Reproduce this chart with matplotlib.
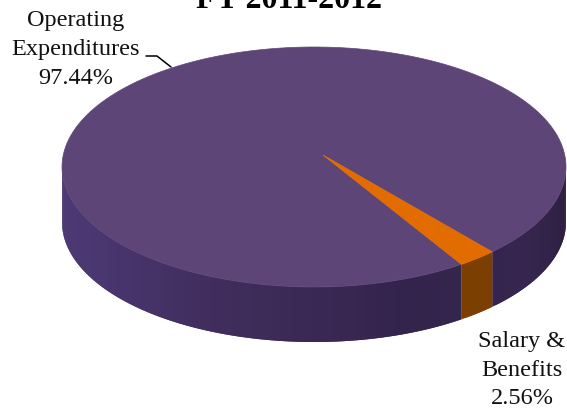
import numpy as np
import matplotlib
matplotlib.use('Agg')
import matplotlib.pyplot as plt
from matplotlib.collections import PolyCollection
from matplotlib.colors import LinearSegmentedColormap
from matplotlib.patches import Polygon

categories = ['Operating\nExpenditures', 'Salary &\nBenefits']
shares = [97.44, 2.56]
title = 'FY 2011-2012'

# pie geometry, in pixels
cx, cy = 314, 167
rx, ry = 252, 120
depth = 55
apex = (323, 155)
start_angle = -45.0  # where the orange slice begins

TOP_COLORS = ['#5e4578', '#e26c00']
SIDE_COLORS = ['#3a2a55', '#7c3f02']

# wall shade running from the left edge round to the right edge
wall_cmap = LinearSegmentedColormap.from_list(
    'wall', [(0.0, '#4e3a78'), (0.18, '#4a3670'), (0.38, '#402d5c'),
             (0.62, '#33244c'), (0.82, '#36264f'), (1.0, '#2a1d3c')])


def rim(angles):
    t = np.radians(angles)
    return cx + rx * np.cos(t), cy - ry * np.sin(t)


def draw_wall(ax, a0, a1, color=None):
    # strips overlap the next one so no seams show between them
    edges = np.linspace(a0, a1, max(2, int(abs(a1 - a0)) + 1))
    step = edges[1] - edges[0]
    polys, colors = [], []
    for i in range(len(edges) - 1):
        hi = min(edges[i] + 2 * step, a1)
        ang = np.linspace(edges[i], hi, 8)
        x, y = rim(ang)
        top = np.column_stack([x, y])
        bottom = np.column_stack([x, y + depth])[::-1]
        polys.append(np.vstack([top, bottom]))
        mid = edges[i] + step / 2
        colors.append(color if color else wall_cmap((mid + 180) / 180))
    ax.add_collection(PolyCollection(polys, facecolors=colors, edgecolors='none'))


def wedge_points(a0, a1):
    ang = np.linspace(a0, a1, 200)
    x, y = rim(ang)
    return np.vstack([[apex], np.column_stack([x, y])])


plt.rcParams['font.family'] = ['Liberation Serif', 'DejaVu Serif']

fig = plt.figure(figsize=(5.67, 4.12), dpi=100)
ax = fig.add_axes([0, 0, 1, 1])
ax.set_xlim(0, 567)
ax.set_ylim(412, 0)
ax.axis('off')

sweep = 360 * shares[1] / sum(shares)
slice_end = start_angle - sweep

# side walls, then the top face
draw_wall(ax, -180, slice_end)
draw_wall(ax, start_angle, 0)
draw_wall(ax, slice_end, start_angle, SIDE_COLORS[1])

ax.add_patch(Polygon(wedge_points(start_angle, slice_end + 360), closed=True,
                     facecolor=TOP_COLORS[0], edgecolor=TOP_COLORS[0], linewidth=0.5))
ax.add_patch(Polygon(wedge_points(slice_end, start_angle), closed=True,
                     facecolor=TOP_COLORS[1], edgecolor=TOP_COLORS[1], linewidth=0.5))

# leader line for the big slice
ax.plot([146, 157, 171], [56, 56, 67], color='black', lw=1.1, solid_capstyle='round')

ax.text(289, 8, title, ha='center', va='baseline', fontsize=23, fontweight='bold', color='black')

ax.text(76, 49, f'{categories[0]}\n{shares[0]:.2f}%', ha='center', va='center',
        fontsize=17.5, linespacing=1.5, color='#111111')
ax.text(522, 370, f'{categories[1]}\n{shares[1]:.2f}%', ha='center', va='center',
        fontsize=17.5, linespacing=1.5, color='#111111')

fig.savefig('out.png', dpi=100)
